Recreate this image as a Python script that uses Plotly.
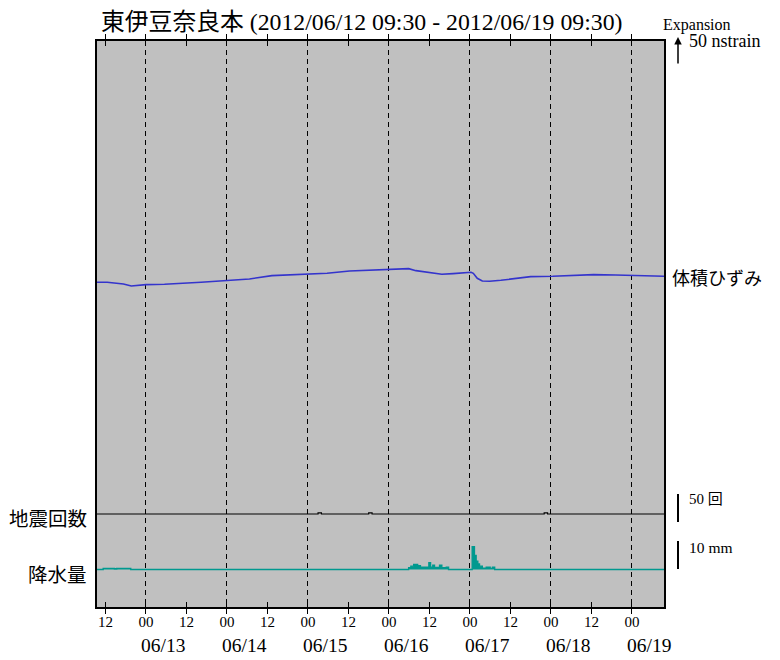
import pandas as pd
import plotly.graph_objects as go

START = "2012-06-12 09:30"
END = "2012-06-19 09:30"

TITLE = "東伊豆奈良本 (2012/06/12 09:30 - 2012/06/19 09:30)"

# volumetric strain (nstrain, relative)
strain_times = [
    "2012-06-12 09:30", "2012-06-12 12:30", "2012-06-12 17:20", "2012-06-12 19:40",
    "2012-06-13 00:00", "2012-06-13 05:30", "2012-06-13 16:20", "2012-06-14 00:00",
    "2012-06-14 06:40", "2012-06-14 13:20", "2012-06-15 00:10", "2012-06-15 05:40",
    "2012-06-15 12:20", "2012-06-15 18:50", "2012-06-16 00:20", "2012-06-16 05:50",
    "2012-06-16 08:00", "2012-06-16 12:20", "2012-06-16 15:40", "2012-06-16 19:00",
    "2012-06-17 00:20", "2012-06-17 01:00", "2012-06-17 02:10", "2012-06-17 03:40",
    "2012-06-17 05:50", "2012-06-17 09:10", "2012-06-17 12:30", "2012-06-17 18:00",
    "2012-06-18 00:30", "2012-06-18 09:20", "2012-06-18 12:40", "2012-06-18 19:10",
    "2012-06-19 01:50", "2012-06-19 09:30",
]
strain_values = [
    0.0, 0.0, -3.3, -7.3,
    -4.7, -4.0, 0.0, 4.0,
    6.7, 13.3, 16.7, 18.0,
    22.7, 24.7, 26.0, 27.3,
    23.3, 19.3, 16.0, 17.3,
    20.0, 18.0, 8.0, 2.7,
    2.0, 4.0, 7.3, 11.3,
    12.0, 14.0, 15.3, 14.7,
    13.3, 12.0,
]

# earthquake counts (per hour)
quake_times = ["2012-06-15 03:00", "2012-06-15 18:00", "2012-06-17 22:00"]
quake_counts = [2, 2, 2]

# precipitation (mm), each value holds until next time
rain_times = [
    "2012-06-12 09:30", "2012-06-12 11:20", "2012-06-12 14:40", "2012-06-12 15:20",
    "2012-06-12 19:30",
    "2012-06-16 05:50", "2012-06-16 06:30", "2012-06-16 07:20", "2012-06-16 08:30",
    "2012-06-16 09:20", "2012-06-16 11:50", "2012-06-16 12:20", "2012-06-16 13:00",
    "2012-06-16 13:30", "2012-06-16 15:00", "2012-06-16 15:40", "2012-06-16 17:00",
    "2012-06-16 17:40",
    "2012-06-17 00:40", "2012-06-17 01:20", "2012-06-17 01:50", "2012-06-17 02:20",
    "2012-06-17 02:50", "2012-06-17 03:40", "2012-06-17 04:50", "2012-06-17 06:00",
    "2012-06-17 06:40", "2012-06-17 07:20",
    "2012-06-19 09:30",
]
rain_mm = [
    0.0, 0.4, 0.25, 0.4,
    0.0,
    0.6, 1.2, 1.8, 1.4,
    0.8, 2.4, 0.8, 1.5,
    0.7, 1.5, 0.6, 0.8,
    0.0,
    8.1, 5.0, 3.0, 2.0,
    1.2, 0.5, 0.8, 0.4,
    0.8, 0.0,
    0.0,
]

date_labels = ["06/13", "06/14", "06/15", "06/16", "06/17", "06/18", "06/19"]
date_positions = ["2012-06-13", "2012-06-14", "2012-06-15", "2012-06-16",
                  "2012-06-17", "2012-06-18", "2012-06-19"]

# hourly earthquake series built from event list
hours = pd.date_range("2012-06-12 09:00", "2012-06-19 10:00", freq="h")
qs = pd.Series(0, index=hours)
for t, c in zip(quake_times, quake_counts):
    qs[pd.Timestamp(t)] = c

FONT = "Liberation Serif, Noto Sans CJK JP, serif"
JFONT = "Noto Sans CJK JP, sans-serif"

# the page body adds an 8px margin; work in page pixels and compensate
OFF = 8
W, H = 780 - OFF, 660 - OFF
PL, PR, PT, PB = 97, 664, 41, 607          # plot frame in page pixels
ML, MT = PL - OFF, PT - OFF
MR = W - (PR - OFF)
MB = H - (PB - OFF)
PW, PH = W - ML - MR, H - MT - MB


def xp(px):
    return (px - PL) / PW


def yp(py):
    return (PB - py) / PH


TEAL = "#00998f"
BLUE = "#3434cc"

fig = go.Figure()
fig.add_trace(go.Scatter(x=strain_times, y=strain_values, mode="lines",
                         line=dict(color=BLUE, width=1.6), xaxis="x", yaxis="y",
                         hoverinfo="skip", showlegend=False))
fig.add_trace(go.Scatter(x=qs.index, y=qs.values, mode="lines",
                         line=dict(color="black", width=1.2, shape="hv"),
                         xaxis="x", yaxis="y2", hoverinfo="skip", showlegend=False))
fig.add_trace(go.Scatter(x=rain_times, y=rain_mm, mode="lines",
                         line=dict(color=TEAL, width=1.4, shape="hv"),
                         fill="tozeroy", fillcolor=TEAL,
                         xaxis="x2", yaxis="y3", hoverinfo="skip", showlegend=False))

# pixel scales: strain 2 nstrain/px, quakes 50/28 per px, rain 10/28 mm per px
s_base = 282.3
q_base = 514.0
r_base = 569.5
strain_range = [-(PB - s_base) * 2.0, (s_base - PT) * 2.0]
quake_range = [-(PB - q_base) * 50 / 28, (q_base - PT) * 50 / 28]
rain_range = [-(PB - r_base) * 10 / 28, (r_base - PT) * 10 / 28]

annotations = [
    dict(text=TITLE, x=xp(99), y=yp(22), xref="paper", yref="paper",
         xanchor="left", yanchor="middle", showarrow=False,
         font=dict(family=FONT, size=23.8, color="black")),
    dict(text="体積ひずみ", x=xp(670), y=yp(277), xref="paper", yref="paper",
         xanchor="left", yanchor="middle", showarrow=False,
         font=dict(family=JFONT, size=18, color="black")),
    dict(text="地震回数", x=xp(89), y=yp(517), xref="paper", yref="paper",
         xanchor="right", yanchor="middle", showarrow=False,
         font=dict(family=JFONT, size=19.5, color="black")),
    dict(text="降水量", x=xp(89), y=yp(573), xref="paper", yref="paper",
         xanchor="right", yanchor="middle", showarrow=False,
         font=dict(family=JFONT, size=19.5, color="black")),
    dict(text="Expansion", x=xp(661), y=yp(25), xref="paper", yref="paper",
         xanchor="left", yanchor="middle", showarrow=False,
         font=dict(family=FONT, size=16, color="black")),
    dict(text="50 nstrain", x=xp(687), y=yp(41), xref="paper", yref="paper",
         xanchor="left", yanchor="middle", showarrow=False,
         font=dict(family=FONT, size=18, color="black")),
    dict(text="50 回", x=xp(687), y=yp(499), xref="paper", yref="paper",
         xanchor="left", yanchor="middle", showarrow=False,
         font=dict(family=FONT, size=15, color="black")),
    dict(text="10 mm", x=xp(687), y=yp(547), xref="paper", yref="paper",
         xanchor="left", yanchor="middle", showarrow=False,
         font=dict(family=FONT, size=15.5, color="black")),
    dict(text="", x=xp(678), y=yp(37), xref="paper", yref="paper",
         ax=0, ay=28, showarrow=True, arrowhead=2, arrowsize=1,
         arrowwidth=1.5, arrowcolor="black"),
]
for lab, pos in zip(date_labels, date_positions):
    annotations.append(dict(text=lab, x=pos, y=yp(645), xref="x", yref="paper",
                            xanchor="left", yanchor="middle", showarrow=False,
                            xshift=-7,
                            font=dict(family=FONT, size=19.5, color="black")))

shapes = [
    dict(type="line", xref="paper", yref="paper", x0=xp(678), x1=xp(678),
         y0=yp(494), y1=yp(522), line=dict(color="black", width=2)),
    dict(type="line", xref="paper", yref="paper", x0=xp(678), x1=xp(678),
         y0=yp(541), y1=yp(569), line=dict(color="black", width=2)),
]

fig.update_layout(
    width=W, height=H,
    margin=dict(l=ML, r=MR, t=MT, b=MB, pad=0),
    paper_bgcolor="white", plot_bgcolor="#c0c0c0",
    showlegend=False,
    font=dict(family=FONT, color="black"),
    xaxis=dict(type="date", range=[START, END], tickmode="linear",
               tick0="2012-06-12 12:00", dtick=12 * 3600 * 1000,
               tickformat="%H", ticks="inside", ticklen=5, tickwidth=1,
               tickcolor="black", mirror="allticks", showline=True,
               linecolor="black", linewidth=2, showgrid=False, zeroline=False,
               tickfont=dict(family=FONT, size=15, color="black")),
    xaxis2=dict(type="date", range=[START, END], overlaying="x", anchor="y",
                tickmode="linear", tick0="2012-06-13 00:00", dtick=86400000,
                showgrid=True, gridcolor="black", gridwidth=1,
                griddash="5px,4px", showticklabels=False, ticks="",
                showline=False, zeroline=False),
    yaxis=dict(range=strain_range, showticklabels=False, ticks="",
               showgrid=False, zeroline=False, showline=True, mirror=True,
               linecolor="black", linewidth=2),
    yaxis2=dict(range=quake_range, overlaying="y", visible=False),
    yaxis3=dict(range=rain_range, overlaying="y", visible=False),
    annotations=annotations,
    shapes=shapes,
)

fig.write_html("out.html")
